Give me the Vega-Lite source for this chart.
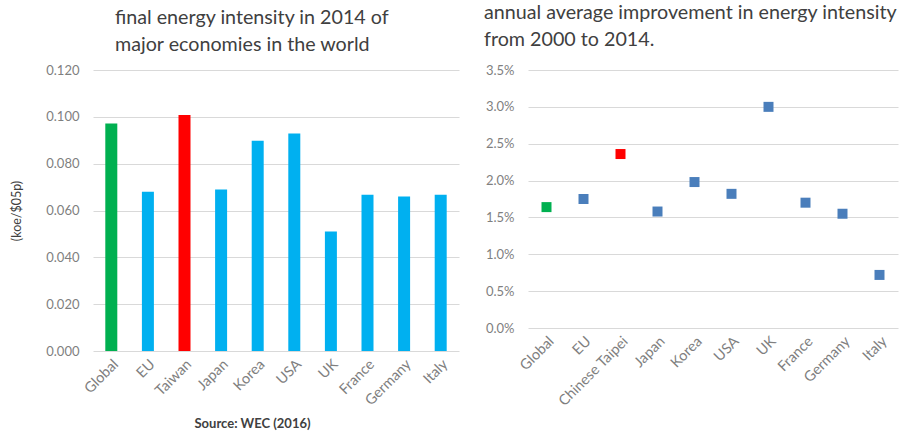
{
  "$schema": "https://vega.github.io/schema/vega-lite/v6.json",
  "background": "white",
  "padding": {"left": 10, "top": 3, "right": 4, "bottom": 4},
  "spacing": 25,
  "config": {
    "font": "Lato",
    "view": {"stroke": null},
    "axis": {
      "labelColor": "#7f7f7f",
      "labelFontSize": 13,
      "gridColor": "#d9d9d9",
      "ticks": false,
      "domain": false,
      "titleColor": "#404040",
      "titleFontWeight": "normal"
    },
    "title": {
      "fontSize": 19.7,
      "fontWeight": "normal",
      "color": "#404040",
      "lineHeight": 27,
      "anchor": "start",
      "frame": "group"
    }
  },
  "datasets": {
    "intensity2014": [
      {"economy": "Global", "intensity": 0.0972, "group": "world"},
      {"economy": "EU", "intensity": 0.068, "group": "other"},
      {"economy": "Taiwan", "intensity": 0.1008, "group": "taiwan"},
      {"economy": "Japan", "intensity": 0.069, "group": "other"},
      {"economy": "Korea", "intensity": 0.0898, "group": "other"},
      {"economy": "USA", "intensity": 0.0929, "group": "other"},
      {"economy": "UK", "intensity": 0.051, "group": "other"},
      {"economy": "France", "intensity": 0.0667, "group": "other"},
      {"economy": "Germany", "intensity": 0.066, "group": "other"},
      {"economy": "Italy", "intensity": 0.0667, "group": "other"}
    ],
    "improvement": [
      {"economy": "Global", "rate": 0.0164, "group": "world"},
      {"economy": "EU", "rate": 0.0175, "group": "other"},
      {"economy": "Chinese Taipei", "rate": 0.0236, "group": "taiwan"},
      {"economy": "Japan", "rate": 0.0158, "group": "other"},
      {"economy": "Korea", "rate": 0.0198, "group": "other"},
      {"economy": "USA", "rate": 0.0182, "group": "other"},
      {"economy": "UK", "rate": 0.03, "group": "other"},
      {"economy": "France", "rate": 0.017, "group": "other"},
      {"economy": "Germany", "rate": 0.0155, "group": "other"},
      {"economy": "Italy", "rate": 0.0072, "group": "other"}
    ]
  },
  "resolve": {"scale": {"color": "independent"}},
  "hconcat": [
    {
      "title": {
        "text": ["final energy intensity in 2014 of", "major economies in the world"],
        "dx": 22,
        "offset": 9
      },
      "width": 366,
      "height": 281,
      "data": {"name": "intensity2014"},
      "mark": {"type": "bar", "size": 12},
      "encoding": {
        "x": {
          "field": "economy",
          "type": "nominal",
          "sort": null,
          "axis": {
            "labelAngle": -45,
            "labelPadding": 6,
            "labelFontSize": 14.5,
            "grid": false,
            "title": "Source: WEC (2016)",
            "titleFontSize": 13,
            "titleFontWeight": "bold",
            "titleColor": "#404040",
            "titleX": 159,
            "titlePadding": 10
          }
        },
        "y": {
          "field": "intensity",
          "type": "quantitative",
          "scale": {"domain": [0, 0.12]},
          "axis": {
            "values": [0, 0.02, 0.04, 0.06, 0.08, 0.1, 0.12],
            "format": ".3f",
            "labelPadding": 14,
            "title": "(koe/$05p)",
            "titleFontSize": 12.5,
            "titlePadding": 22
          }
        },
        "color": {
          "field": "group",
          "type": "nominal",
          "scale": {"domain": ["world", "taiwan", "other"], "range": ["#00B050", "#FF0000", "#00B0F0"]},
          "legend": null
        }
      }
    },
    {
      "title": {
        "text": ["annual average improvement in energy intensity", " from 2000 to 2014."],
        "dx": -44,
        "offset": 14
      },
      "width": 370,
      "height": 258,
      "data": {"name": "improvement"},
      "mark": {"type": "square", "size": 100, "opacity": 1},
      "encoding": {
        "x": {
          "field": "economy",
          "type": "nominal",
          "sort": null,
          "axis": {"labelAngle": -45, "labelPadding": 6, "labelFontSize": 14.5, "grid": false, "title": null}
        },
        "y": {
          "field": "rate",
          "type": "quantitative",
          "scale": {"domain": [0, 0.035]},
          "axis": {
            "values": [0, 0.005, 0.01, 0.015, 0.02, 0.025, 0.03, 0.035],
            "format": ".1%",
            "labelPadding": 14,
            "title": null
          }
        },
        "color": {
          "field": "group",
          "type": "nominal",
          "scale": {"domain": ["world", "taiwan", "other"], "range": ["#00B050", "#FF0000", "#4A7EBB"]},
          "legend": null
        }
      }
    }
  ]
}
